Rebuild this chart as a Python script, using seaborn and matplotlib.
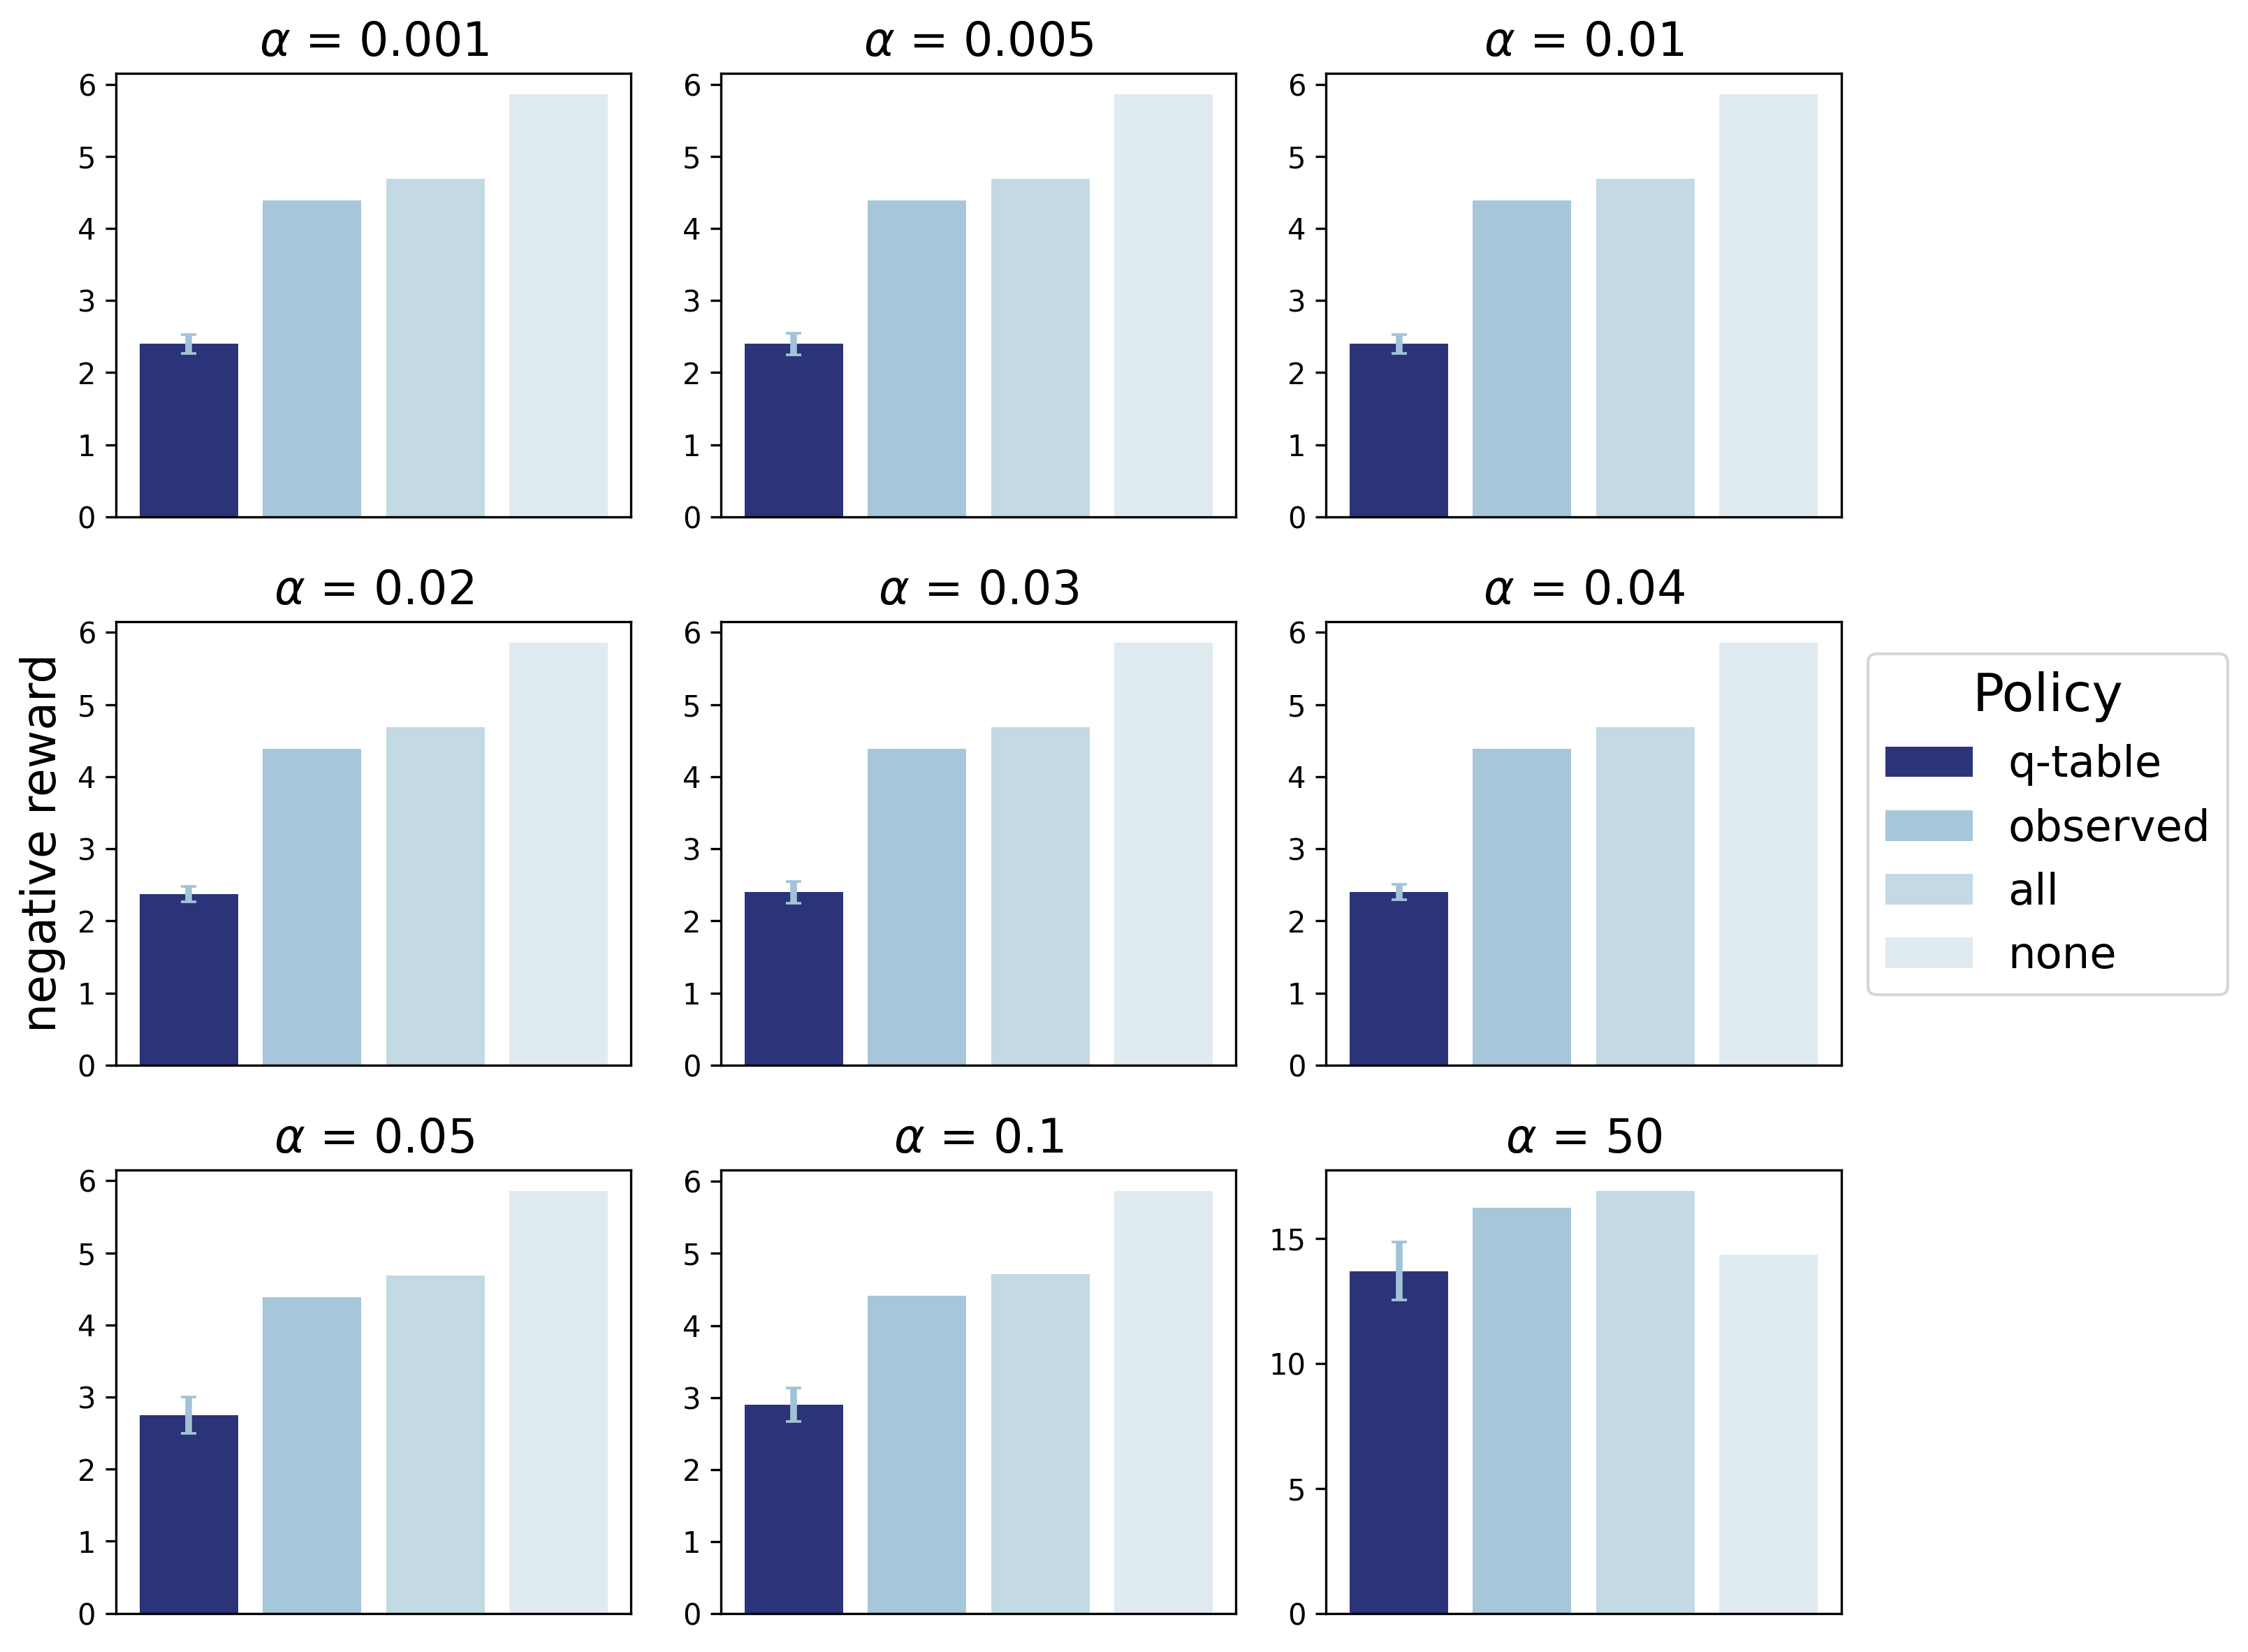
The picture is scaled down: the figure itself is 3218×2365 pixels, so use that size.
import numpy as np
import pandas as pd
import matplotlib
matplotlib.use("Agg")
import matplotlib.pyplot as plt
from matplotlib.patches import Patch
import seaborn as sns

# values
policies = ["q-table", "observed", "all", "none"]
alphas = ["0.001", "0.005", "0.01", "0.02", "0.03", "0.04", "0.05", "0.1", "50"]
qtable_mean = [2.40, 2.40, 2.40, 2.37, 2.40, 2.40, 2.75, 2.90, 13.71]
qtable_err = [0.13, 0.15, 0.13, 0.11, 0.15, 0.11, 0.25, 0.23, 1.17]
observed_mean = [4.39, 4.39, 4.39, 4.39, 4.39, 4.39, 4.39, 4.41, 16.25]
all_mean = [4.69, 4.69, 4.69, 4.69, 4.69, 4.69, 4.69, 4.71, 16.92]
none_mean = [5.86, 5.86, 5.86, 5.86, 5.86, 5.86, 5.86, 5.87, 14.38]

colors = ["#2b3479", "#a6c6d9", "#c3d9e4", "#e0ebf1"]
err_color = "#a2c3d7"


def make_frame():
    rows = []
    for i, a in enumerate(alphas):
        vals = [qtable_mean[i], observed_mean[i], all_mean[i], none_mean[i]]
        for p, v in zip(policies, vals):
            rows.append({"alpha": a, "policy": p, "reward": v})
    return pd.DataFrame(rows)


def main():
    df = make_frame()
    palette = dict(zip(policies, colors))

    fig, axes = plt.subplots(3, 3, figsize=(3218 / 300, 2365 / 300), dpi=300)
    fig.subplots_adjust(left=0.0517, right=0.819, top=0.9557, bottom=0.0234,
                        wspace=0.175, hspace=0.236)

    for i, (a, ax) in enumerate(zip(alphas, axes.flat)):
        sub = df[df["alpha"] == a]
        sns.barplot(data=sub, x="policy", y="reward", hue="policy", order=policies,
                    hue_order=policies, palette=palette, saturation=1,
                    legend=False, errorbar=None, ax=ax)
        bar = ax.patches[0]
        xc = bar.get_x() + bar.get_width() / 2
        ax.errorbar([xc], [qtable_mean[i]], yerr=[qtable_err[i]], fmt="none",
                    ecolor=err_color, elinewidth=2.3, capsize=2.7, capthick=0.9)
        ax.set_xlim(-0.59, 3.59)
        ax.set_xticks([])
        ax.set_xlabel("")
        ax.set_ylabel("")
        ax.set_title(rf"$\alpha$ = {a}", fontsize=16)
        ax.tick_params(axis="y", labelsize=10)

    axes[1, 0].set_ylabel("negative reward", fontsize=16)

    handles = [Patch(facecolor=palette[p], label=p) for p in policies]
    fig.legend(handles=handles, title="Policy", loc="center left",
               bbox_to_anchor=(0.831, 0.501), borderaxespad=0,
               fontsize=15, title_fontsize=18)

    fig.savefig("out.png", dpi=300)
    plt.close(fig)


if __name__ == "__main__":
    main()
